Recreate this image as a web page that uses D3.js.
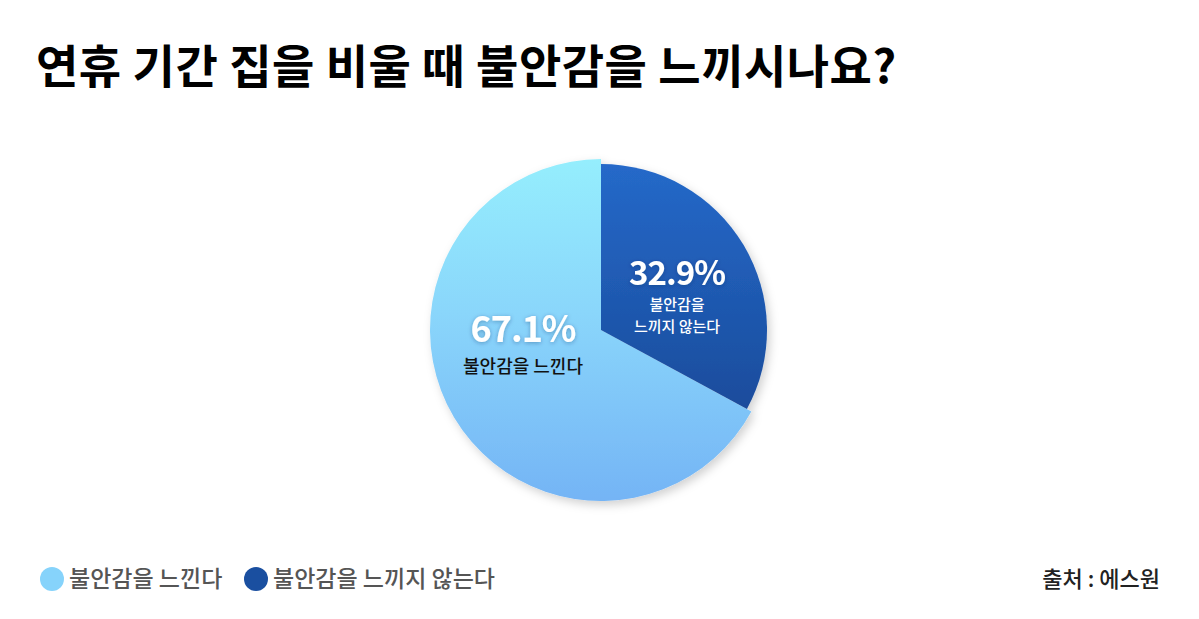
<!DOCTYPE html>
<html>
<head>
<meta charset="utf-8">
<script src="https://cdn.jsdelivr.net/npm/d3@7"></script>
<style>
  body { margin: 0; background: #fff; }
  text { font-family: "Noto Sans CJK KR", "Noto Sans", sans-serif; }
</style>
</head>
<body>
<div id="container"></div>
<script>
let w = 1199;
let h = 619;

// data
let categories = ["불안감을 느낀다", "불안감을 느끼지 않는다"];
let values = [67.1, 32.9];
let sliceLabels = [["불안감을 느낀다"], ["불안감을", "느끼지 않는다"]];
let title = "연휴 기간 집을 비울 때 불안감을 느끼시나요?";
let source = "출처 : 에스원";

let viz = d3.select("#container").append("svg")
    .attr("width", w)
    .attr("height", h)
    .style("background-color", "white");

let defs = viz.append("defs");

let gLight = defs.append("linearGradient").attr("id", "gLight")
    .attr("x1", 0).attr("y1", 0).attr("x2", 0).attr("y2", 1);
gLight.append("stop").attr("offset", "0%").attr("stop-color", "#95eefd");
gLight.append("stop").attr("offset", "45%").attr("stop-color", "#8ad6fb");
gLight.append("stop").attr("offset", "100%").attr("stop-color", "#74b4f5");

let gDark = defs.append("linearGradient").attr("id", "gDark")
    .attr("x1", 0).attr("y1", 0).attr("x2", 0).attr("y2", 1);
gDark.append("stop").attr("offset", "0%").attr("stop-color", "#2569c9");
gDark.append("stop").attr("offset", "100%").attr("stop-color", "#1a4c9c");

let shadow = defs.append("filter").attr("id", "pieShadow")
    .attr("x", "-20%").attr("y", "-20%").attr("width", "140%").attr("height", "140%");
shadow.append("feDropShadow").attr("dx", 3).attr("dy", 4).attr("stdDeviation", 5)
    .attr("flood-color", "#000").attr("flood-opacity", 0.18);

let txtShadow = defs.append("filter").attr("id", "txtShadow")
    .attr("x", "-20%").attr("y", "-30%").attr("width", "140%").attr("height", "160%");
txtShadow.append("feDropShadow").attr("dx", 0).attr("dy", 1).attr("stdDeviation", 2)
    .attr("flood-color", "#0a2a60").attr("flood-opacity", 0.35);

// title
viz.append("text")
    .attr("x", 36).attr("y", 83)
    .attr("font-size", 46).attr("font-weight", 700)
    .attr("letter-spacing", 0.5)
    .attr("fill", "#000")
    .text(title);

// pie
let cx = 601, cy = 330;
let radii = [171, 166];
let fills = ["url(#gLight)", "url(#gDark)"];

// second category starts at 12 o'clock going clockwise
let arcsData = d3.pie().sort(null).value(d => d)(values.slice().reverse());

let pieGroup = viz.append("g")
    .attr("transform", "translate(" + cx + "," + cy + ")")
    .attr("filter", "url(#pieShadow)");

let order = [1, 0]; // light first then dark
order.forEach(function(k){
  let ad = arcsData[k];
  let catIndex = values.length - 1 - k;
  let arcGen = d3.arc().innerRadius(0).outerRadius(radii[catIndex]);
  pieGroup.append("path")
    .attr("d", arcGen(ad))
    .attr("fill", fills[catIndex]);
});

// slice labels
let labelPos = [[-78, 0], [76, -58]];
let labelGroup = viz.append("g").attr("transform", "translate(" + cx + "," + cy + ")");

values.forEach(function(v, i){
  let g = labelGroup.append("g")
    .attr("transform", "translate(" + labelPos[i][0] + "," + labelPos[i][1] + ")");
  g.append("text")
    .attr("text-anchor", "middle")
    .attr("y", i == 0 ? 12 : 13)
    .attr("font-size", i == 0 ? 36 : 33)
    .attr("font-weight", 700)
    .attr("fill", "#fff")
    .attr("filter", "url(#txtShadow)")
    .attr("letter-spacing", -1)
    .text(d3.format(".1f")(v) + "%");
  sliceLabels[i].forEach(function(line, j){
    g.append("text")
      .attr("text-anchor", "middle")
      .attr("y", (i == 0 ? 43 : 38) + j * 22)
      .attr("font-size", i == 0 ? 18 : 15)
      .attr("font-weight", 500)
      .attr("fill", i == 0 ? "#111" : "#fff")
      .text(line);
  });
});

// legend
let legendColors = ["#86d3fb", "#1a4fa0"];
let legendX = [52, 256];
let legend = viz.append("g");
categories.forEach(function(c, i){
  legend.append("circle")
    .attr("cx", legendX[i]).attr("cy", 579).attr("r", 12)
    .attr("fill", legendColors[i]);
  legend.append("text")
    .attr("x", legendX[i] + 17).attr("y", 587)
    .attr("font-size", 23).attr("font-weight", 500)
    .attr("fill", "#555")
    .text(c);
});

// source
viz.append("text")
    .attr("x", 1160).attr("y", 587)
    .attr("text-anchor", "end")
    .attr("font-size", 22).attr("font-weight", 500)
    .attr("fill", "#222")
    .text(source);
</script>
</body>
</html>
